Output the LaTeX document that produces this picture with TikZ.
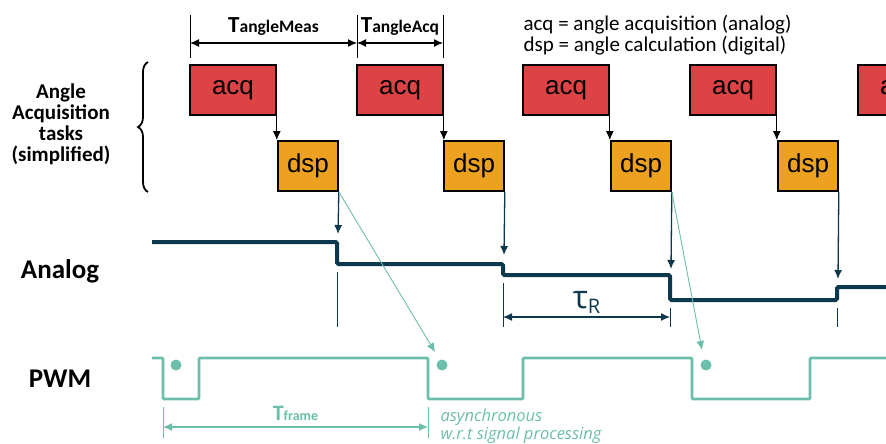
\documentclass[tikz,border=0pt]{standalone}
\usepackage{fontspec}
\setmainfont{Carlito}
\newfontfamily\arialfont{Liberation Sans}
\newfontfamily\osfont{Open Sans}
\usepackage{tikz}
\usetikzlibrary{arrows.meta,decorations.pathreplacing}

\definecolor{dark}{RGB}{11,56,77}
\definecolor{teal}{RGB}{107,190,170}
\definecolor{acqred}{RGB}{221,66,69}
\definecolor{dsporange}{RGB}{236,162,32}

\begin{document}
\begin{tikzpicture}
		[x=1pt,y=-1pt,>={Latex[length=9pt,width=8pt]},
		a/.style= {font=\arialfont\fontsize{26}{26}\selectfont,minimum width=86pt,minimum height=50pt,inner sep=0pt,draw=black,line width=1.6pt,fill=acqred},
		d/.style= {font=\arialfont\fontsize{26}{26}\selectfont,minimum width=60pt,minimum height=50pt,inner sep=0pt,draw=black,line width=1.6pt,fill=dsporange},
		lbl/.style= {font=\bfseries\fontsize{27}{27}\selectfont,inner sep=0pt},
		sig/.style= {line width=4pt,draw=dark,rounded corners=1.5pt},
		pwm/.style= {line width=2.6pt,draw=teal,rounded corners=1pt},
		tick/.style= {line width=1pt},
		dot/.style= {circle,fill=teal,minimum size=11pt,inner sep=0pt}]

		\useasboundingbox (0,0) rectangle (886,444);

		% tasks
		\node[a] (a1) at (233,90) {acq};
		\node[a] (a2) at (400,90) {acq};
		\node[a] (a3) at (566,90) {acq};
		\node[a] (a4) at (733,90) {acq};
		\node[a] (a5) at (901,90) {acq};

		\node[d] (d1) at (308,166) {dsp};
		\node[d] (d2) at (474,166) {dsp};
		\node[d] (d3) at (641,166) {dsp};
		\node[d] (d4) at (808,166) {dsp};

		\draw[->,line width=1.3pt] (a1.south east) -- (a1.south east |- d1.north);
		\draw[->,line width=1.3pt] (a2.south east) -- (a2.south east |- d2.north);
		\draw[->,line width=1.3pt] (a3.south east) -- (a3.south east |- d3.north);
		\draw[->,line width=1.3pt] (a4.south east) -- (a4.south east |- d4.north);

		% timing marks
		\coordinate (m0) at (190,15);
		\coordinate (m1) at (357,15);
		\coordinate (m2) at (443,15);
		\draw[tick] (m0) -- ++(0,43);
		\draw[tick] (m1) -- ++(0,43);
		\draw[tick] (m2) -- ++(0,43);
		\draw[<->,line width=1.2pt] ([yshift=-28pt]m0) -- node[above=4pt,font=\bfseries] {{\fontsize{23}{23}\selectfont T}{\fontsize{17.5}{17.5}\selectfont angleMeas}} ([yshift=-28pt]m1);
		\draw[<->,line width=1.2pt] ([yshift=-28pt]m1) -- node[above=4pt,font=\bfseries] {{\fontsize{23}{23}\selectfont T}{\fontsize{17.5}{17.5}\selectfont angleAcq}} ([yshift=-28pt]m2);

		\node[anchor=west,align=left,font=\fontsize{21}{21}\selectfont] (leg) at (520,35)
			{acq = angle acquisition (analog)\\dsp = angle calculation (digital)};

		% left labels
		\node[align=center,font=\bfseries\fontsize{21}{21}\selectfont] (tasks) at (61,124)
			{Angle\\Acquisition\\tasks\\(simplified)};
		\draw[decorate,decoration={brace,amplitude=10pt,mirror},line width=1.8pt] (148,62) -- (148,192);
		\node[lbl] (analog) at (60,271) {Analog};
		\node[lbl] (pwmlbl) at (60,379) {PWM};

		% analog signal
		\draw[sig] (152,242) -- (337,242) -- (337,264) -- (503,264) -- (503,275) -- (670,275)
			-- (670,300) -- (837,300) -- (837,287) -- (886,287);

		\coordinate (t1) at (338,234);
		\coordinate (t2) at (504,255);
		\coordinate (t3) at (671,269);
		\coordinate (t4) at (838,279);
		\draw[->,dark,line width=1.3pt] (d1.south east) -- (t1);
		\draw[->,dark,line width=1.3pt] (d2.south east) -- (t2);
		\draw[->,dark,line width=1.3pt] (d3.south east) -- (t3);
		\draw[->,dark,line width=1.3pt] (d4.south east) -- (t4);

		\coordinate (r1) at (337,327);
		\coordinate (r2) at (503,327);
		\coordinate (r3) at (670,327);
		\coordinate (r4) at (837,327);
		\draw[tick,dark] (r1) -- ++(0,-55);
		\draw[tick,dark] (r2) -- ++(0,-44);
		\draw[tick,dark] (r3) -- ++(0,-19);
		\draw[tick,dark] (r4) -- ++(0,-19);
		\draw[<->,dark,line width=1.2pt] ([yshift=10pt]r2) -- node[above=0pt,font=\osfont\fontsize{32}{32}\selectfont,text=dark]
			{τ\raisebox{-5pt}{\fontsize{20}{20}\selectfont R}} ([yshift=10pt]r3);

		% pwm signal
		\draw[pwm] (152,358) -- (163,358) -- (163,399) -- (199,399) -- (199,358) -- (428,358)
			-- (428,399) -- (523,399) -- (523,358) -- (692,358) -- (692,399) -- (810,399)
			-- (810,358) -- (886,358);
		\node[dot] (p1) at (176,365) {};
		\node[dot] (p2) at (442,365) {};
		\node[dot] (p3) at (706,365) {};

		\draw[->,teal,line width=0.9pt] (d1.south east) -- ([xshift=-7pt,yshift=13pt]p2.center);
		\draw[->,teal,line width=0.9pt] (d3.south east) -- ([xshift=-4pt,yshift=15pt]p3.center);

		\coordinate (f1) at (163,407);
		\coordinate (f2) at (428,407);
		\draw[tick,teal] (f1) -- ++(0,31);
		\draw[tick,teal] (f2) -- ++(0,31);
		\draw[<->,teal,line width=1.2pt] ([yshift=-20pt]f1) -- node[above=2pt,font=\bfseries,text=teal]
			{{\fontsize{22}{22}\selectfont T}{\fontsize{14}{14}\selectfont frame}} ([yshift=-20pt]f2);

		\node[anchor=west,align=left,text=teal,font=\osfont\itshape\fontsize{16.5}{18}\selectfont] (async) at (437,426)
			{asynchronous\\w.r.t signal processing};

	\end{tikzpicture}
\end{document}
